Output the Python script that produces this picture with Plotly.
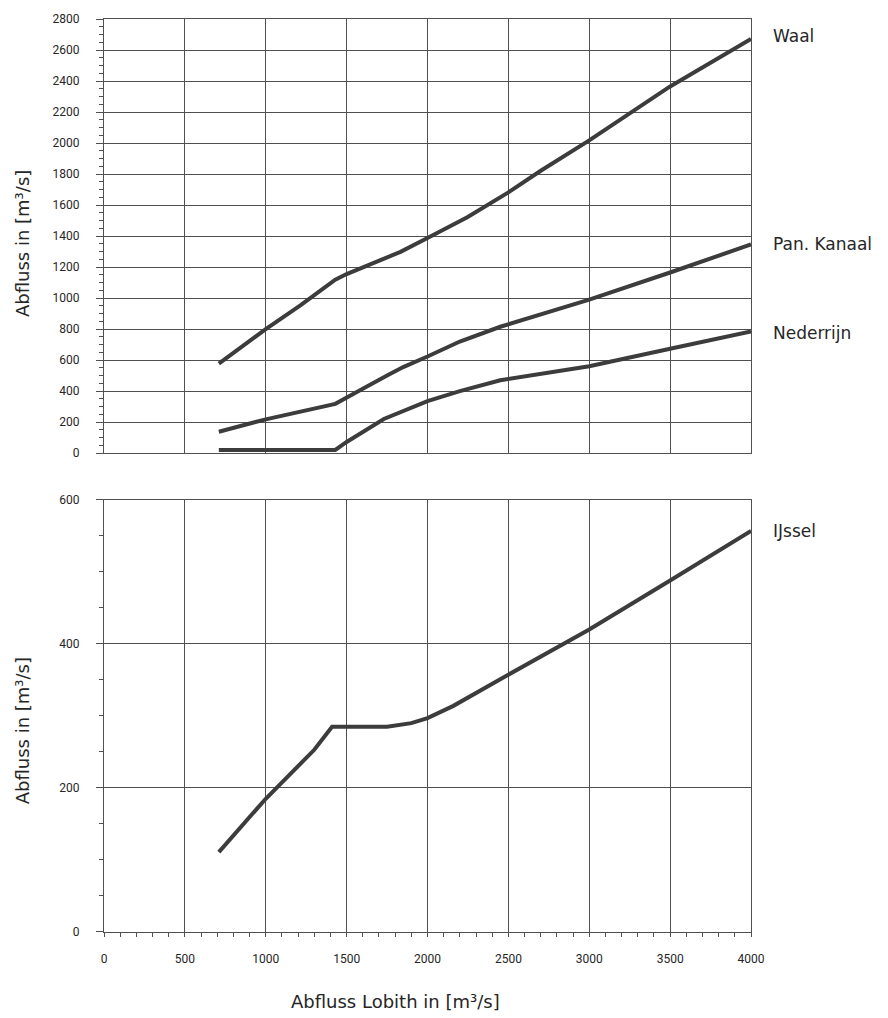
import plotly.graph_objects as go
from plotly.subplots import make_subplots

# Data
waal_x = [710, 1000, 1214, 1430, 1500, 1833, 2000, 2246, 2500, 2700, 3000, 3500, 4000]
waal_y = [577, 800, 953, 1119, 1155, 1298, 1387, 1521, 1682, 1821, 2017, 2365, 2671]

pan_x = [710, 1000, 1430, 1500, 1600, 1750, 1850, 2000, 2200, 2450, 3000, 3500, 4000]
pan_y = [138, 218, 318, 355, 415, 500, 555, 623, 720, 815, 990, 1165, 1346]

ned_x = [710, 1430, 1500, 1730, 2000, 2200, 2450, 3000, 3500, 4000]
ned_y = [21, 21, 72, 220, 336, 400, 470, 560, 673, 784]

ijs_x = [710, 1000, 1300, 1410, 1750, 1900, 2000, 2160, 2450, 3000, 3500, 4000]
ijs_y = [111, 185, 253, 285, 285, 290, 297, 314, 351, 420, 488, 557]

top_series = [("Waal", waal_x, waal_y, 3), ("Pan. Kanaal", pan_x, pan_y, 0),
              ("Nederrijn", ned_x, ned_y, -1)]
bottom_series = [("IJssel", ijs_x, ijs_y, 0)]

x_ticks = [0, 500, 1000, 1500, 2000, 2500, 3000, 3500, 4000]
top_y_ticks = list(range(0, 2801, 200))
bottom_y_ticks = [0, 200, 400, 600]

y_title = "Abfluss in [m³/s]"
x_title = "Abfluss Lobith in [m³/s]"

LINE = "#3c3c3c"
GRID = "#505050"
TEXT = "#262626"
TICKFONT = dict(family="Roboto, DejaVu Sans", size=12, color=TEXT)
LABELFONT = dict(family="DejaVu Sans", size=17, color=TEXT)
TITLEFONT = dict(family="DejaVu Sans", size=18, color=TEXT)

fig = make_subplots(rows=2, cols=1, shared_xaxes=False, vertical_spacing=0.0)

for name, xs, ys, dy in top_series:
    fig.add_trace(go.Scatter(x=xs, y=ys, mode="lines", name=name,
                             line=dict(color=LINE, width=4), showlegend=False), row=1, col=1)
    fig.add_annotation(x=xs[-1], y=ys[-1], xref="x", yref="y", text=name, showarrow=False,
                       xanchor="left", yanchor="middle", xshift=20, yshift=dy, font=LABELFONT)

for name, xs, ys, dy in bottom_series:
    fig.add_trace(go.Scatter(x=xs, y=ys, mode="lines", name=name,
                             line=dict(color=LINE, width=4), showlegend=False), row=2, col=1)
    fig.add_annotation(x=xs[-1], y=ys[-1], xref="x2", yref="y2", text=name, showarrow=False,
                       xanchor="left", yanchor="middle", xshift=20, yshift=dy, font=LABELFONT)

# Axis titles
fig.add_annotation(xref="paper", yref="paper", x=0, y=0.7535, xshift=-82, text=y_title,
                   textangle=-90, showarrow=False, xanchor="center", yanchor="middle",
                   font=TITLEFONT)
fig.add_annotation(xref="paper", yref="paper", x=0, y=0.2198, xshift=-82, text=y_title,
                   textangle=-90, showarrow=False, xanchor="center", yanchor="middle",
                   font=TITLEFONT)
fig.add_annotation(xref="paper", yref="paper", x=0.4505, y=-0.0762, text=x_title,
                   showarrow=False, xanchor="center", yanchor="middle", font=TITLEFONT)

common_x = dict(range=[0, 4000], tickvals=x_ticks, showgrid=True, gridcolor=GRID, gridwidth=1,
                showline=True, linecolor=GRID, linewidth=1, mirror=True, zeroline=False)
common_y = dict(showgrid=True, gridcolor=GRID, gridwidth=1, showline=True, linecolor=GRID,
                linewidth=1, mirror=True, zeroline=False, ticks="outside", ticklen=7,
                tickcolor=GRID, tickfont=TICKFONT, ticklabelstandoff=14,
                minor=dict(dtick=50, ticks="outside", ticklen=4, tickcolor=GRID, showgrid=False))

fig.update_layout(
    width=888, height=1018,
    margin=dict(l=104, r=137, t=13, b=86),
    plot_bgcolor="white", paper_bgcolor="white",
    xaxis=dict(common_x, domain=[0, 1], showticklabels=False, ticks="", anchor="y"),
    yaxis=dict(common_y, domain=[0.5245, 1.0], range=[0, 2800], tickvals=top_y_ticks,
               anchor="x"),
    xaxis2=dict(common_x, domain=[0, 1], ticks="outside", ticklen=4, tickcolor=GRID,
                tickfont=TICKFONT, ticklabelstandoff=12,
                minor=dict(dtick=100, ticks="outside", ticklen=4, tickcolor=GRID, showgrid=False),
                anchor="y2"),
    yaxis2=dict(common_y, domain=[0.0, 0.4733], range=[0, 600], tickvals=bottom_y_ticks,
                anchor="x2"),
)

fig.write_html("out.html", config={"displayModeBar": False},
               post_script="document.body.style.margin='0px';")
